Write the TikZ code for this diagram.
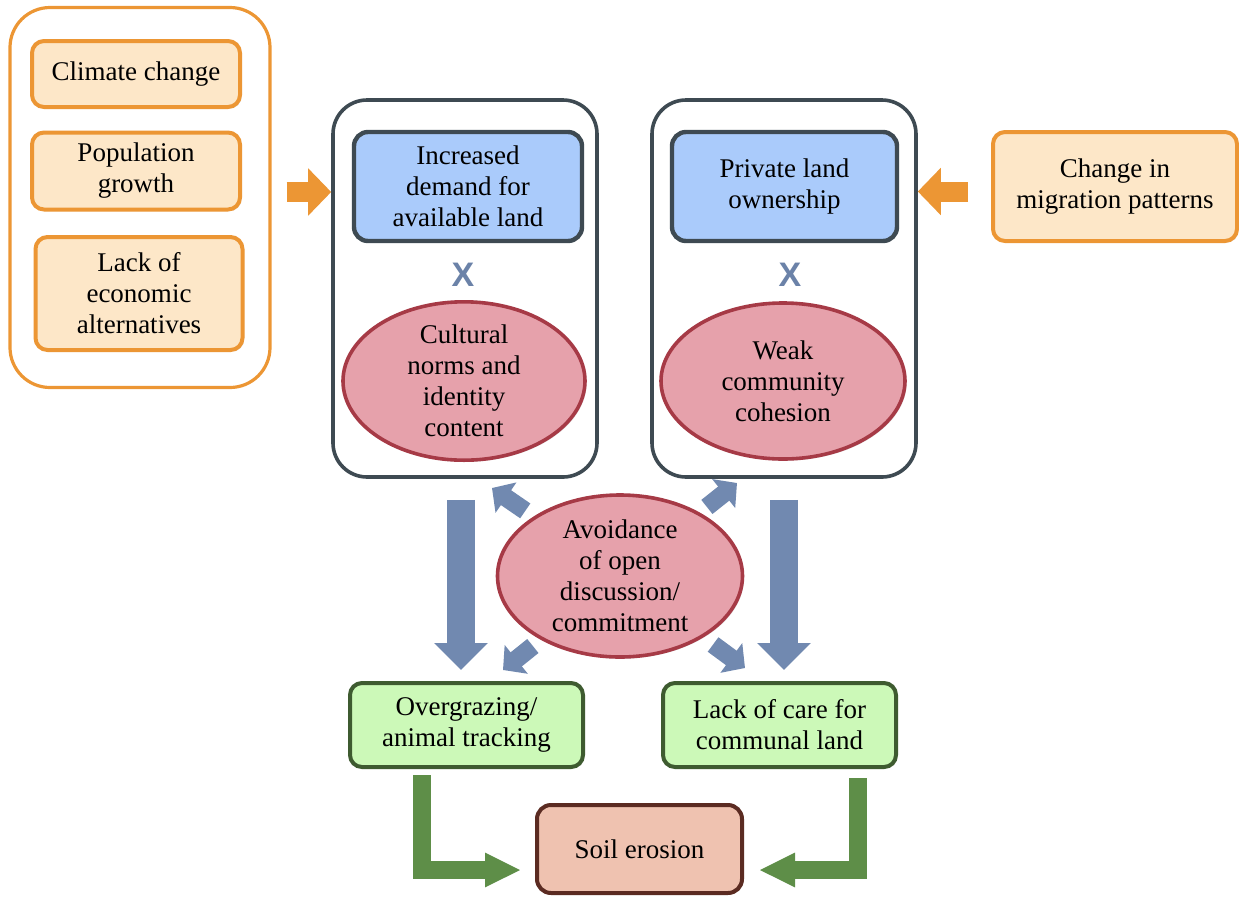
\documentclass[tikz,border=0pt]{standalone}
\usepackage{fontspec}
\setmainfont{Liberation Serif}
\newfontfamily\xfont{Liberation Sans}
\usetikzlibrary{shapes.geometric,arrows.meta,shadows}
\definecolor{orS}{RGB}{236,150,52}
\definecolor{orF}{RGB}{253,231,200}
\definecolor{slate}{RGB}{62,74,82}
\definecolor{blF}{RGB}{170,203,251}
\definecolor{pkF}{RGB}{230,161,171}
\definecolor{pkS}{RGB}{166,58,70}
\definecolor{arB}{RGB}{113,137,176}
\definecolor{xB}{RGB}{107,130,168}
\definecolor{grF}{RGB}{204,249,184}
\definecolor{grS}{RGB}{62,91,48}
\definecolor{grA}{RGB}{94,142,72}
\definecolor{soF}{RGB}{239,194,176}
\definecolor{soS}{RGB}{91,43,34}
\tikzset{
  txt/.style={align=center,font=\fontsize{13.5}{15.5}\selectfont,inner sep=0pt},
  shad/.style={drop shadow={shadow xshift=0.8pt,shadow yshift=-0.8pt,opacity=0.22}},
  obox/.style={txt,shad,draw=orS,fill=orF,line width=2pt,rounded corners=6pt},
  bbox/.style={txt,shad,draw=slate,fill=blF,line width=2.2pt,rounded corners=7pt},
  gbox/.style={txt,shad,draw=grS,fill=grF,line width=2pt,rounded corners=6pt},
  sbox/.style={txt,shad,draw=soS,fill=soF,line width=2pt,rounded corners=7pt},
  pell/.style={txt,shad,ellipse,draw=pkS,fill=pkF,line width=1.8pt},
  frame/.style={draw=slate,line width=1.8pt,rounded corners=17pt,fill=white},
  ogrp/.style={draw=orS,line width=1.6pt,rounded corners=20pt,fill=white},
  xmark/.style={font=\xfont\bfseries\fontsize{17}{17}\selectfont,text=xB,inner sep=0pt},
  oarrow/.style={draw=orS,line width=10pt,-{Triangle[width=23pt,length=11.5pt]}},
  barrow/.style={draw=arB,line width=14pt,-{Triangle[width=26pt,length=13.5pt]}},
  sarrow/.style={draw=arB,line width=9pt,-{Triangle[width=18pt,length=8.5pt]}},
  garrow/.style={draw=grA,line width=9pt,line join=miter,-{Triangle[width=16pt,length=18pt]}},
}
\begin{document}
\begin{tikzpicture}[x=0.5pt,y=-0.5pt]
\useasboundingbox (0,0) rectangle (1239,896);
% left group
\node[ogrp,minimum width=130pt,minimum height=190pt] (grp) at (140,197.5) {};
\node[obox,minimum width=104pt,minimum height=33pt] (cc) at (136,74) {Climate change};
\node[obox,minimum width=104pt,minimum height=38.5pt] (pg) at (136,171) {Population\\growth};
\node[obox,minimum width=103.5pt,minimum height=56.5pt] (le) at (139,293.5) {Lack of\\economic\\alternatives};
% containers
\node[frame,minimum width=132pt,minimum height=188.5pt] (c1) at (465,288.5) {};
\node[frame,minimum width=132pt,minimum height=188.5pt] (c2) at (784,288.5) {};
\node[bbox,minimum width=114pt,minimum height=54.5pt] (dem) at (468,186.5) {Increased\\demand for\\available land};
\node[bbox,minimum width=112.5pt,minimum height=54.5pt] (pri) at (784.5,186.5) {Private land\\ownership};
\node[xmark] (x1) at (463,275) {X};
\node[xmark] (x2) at (790,275) {X};
\node[pell,minimum width=121pt,minimum height=78pt] (cul) at (464,381) {Cultural\\norms and\\identity\\content};
\node[pell,minimum width=122pt,minimum height=78pt] (weak) at (783,381) {Weak\\community\\cohesion};
% migration
\node[obox,minimum width=122pt,minimum height=54.5pt] (mig) at (1115,186.5) {Change in\\migration patterns};
% avoidance
\node[pell,minimum width=122.5pt,minimum height=81pt] (av) at (620,576) {Avoidance\\of open\\discussion/\\commitment};
% outcomes
\node[gbox,minimum width=116.5pt,minimum height=42pt] (og) at (466.5,725) {Overgrazing/\\animal tracking};
\node[gbox,minimum width=116.5pt,minimum height=42pt] (lc) at (779.5,725) {Lack of care for\\communal land};
\node[sbox,minimum width=102.5pt,minimum height=44pt] (soil) at (639.5,849) {Soil erosion};
% orange arrows
\draw[oarrow,shorten <=7.5pt] ([yshift=2.75pt]grp.east) -- ([yshift=2.75pt]grp.east -| c1.west);
\draw[oarrow,shorten <=11.5pt] ([yshift=-2.5pt]mig.west) -- ([yshift=-2.5pt]mig.west -| c2.east);
% big blue arrows
\draw[barrow,shorten <=10.5pt,shorten >=5.5pt] ([xshift=-2pt]c1.south) -- ([xshift=-2pt]c1.south |- og.north);
\draw[barrow,shorten <=10.5pt,shorten >=5.5pt] (c2.south) -- (c2.south |- lc.north);
% small diagonal arrows
\coordinate (ul) at (492,488);
\coordinate (ur) at (737,483);
\coordinate (ll) at (503,670);
\coordinate (lr) at (745,668);
\draw[sarrow,shorten <=5pt] (av) -- (ul);
\draw[sarrow,shorten <=4.5pt] (av) -- (ur);
\draw[sarrow,shorten <=5pt] (av) -- (ll);
\draw[sarrow,shorten <=6pt] (av) -- (lr);
% green arrows
\draw[garrow,shorten <=3pt,shorten >=7pt] ([xshift=-22.25pt]og.south) |- ([yshift=-10.5pt]soil.west);
\draw[garrow,shorten <=4.5pt,shorten >=7.5pt] ([xshift=39.25pt]lc.south) |- ([yshift=-10.5pt]soil.east);
\end{tikzpicture}
\end{document}
